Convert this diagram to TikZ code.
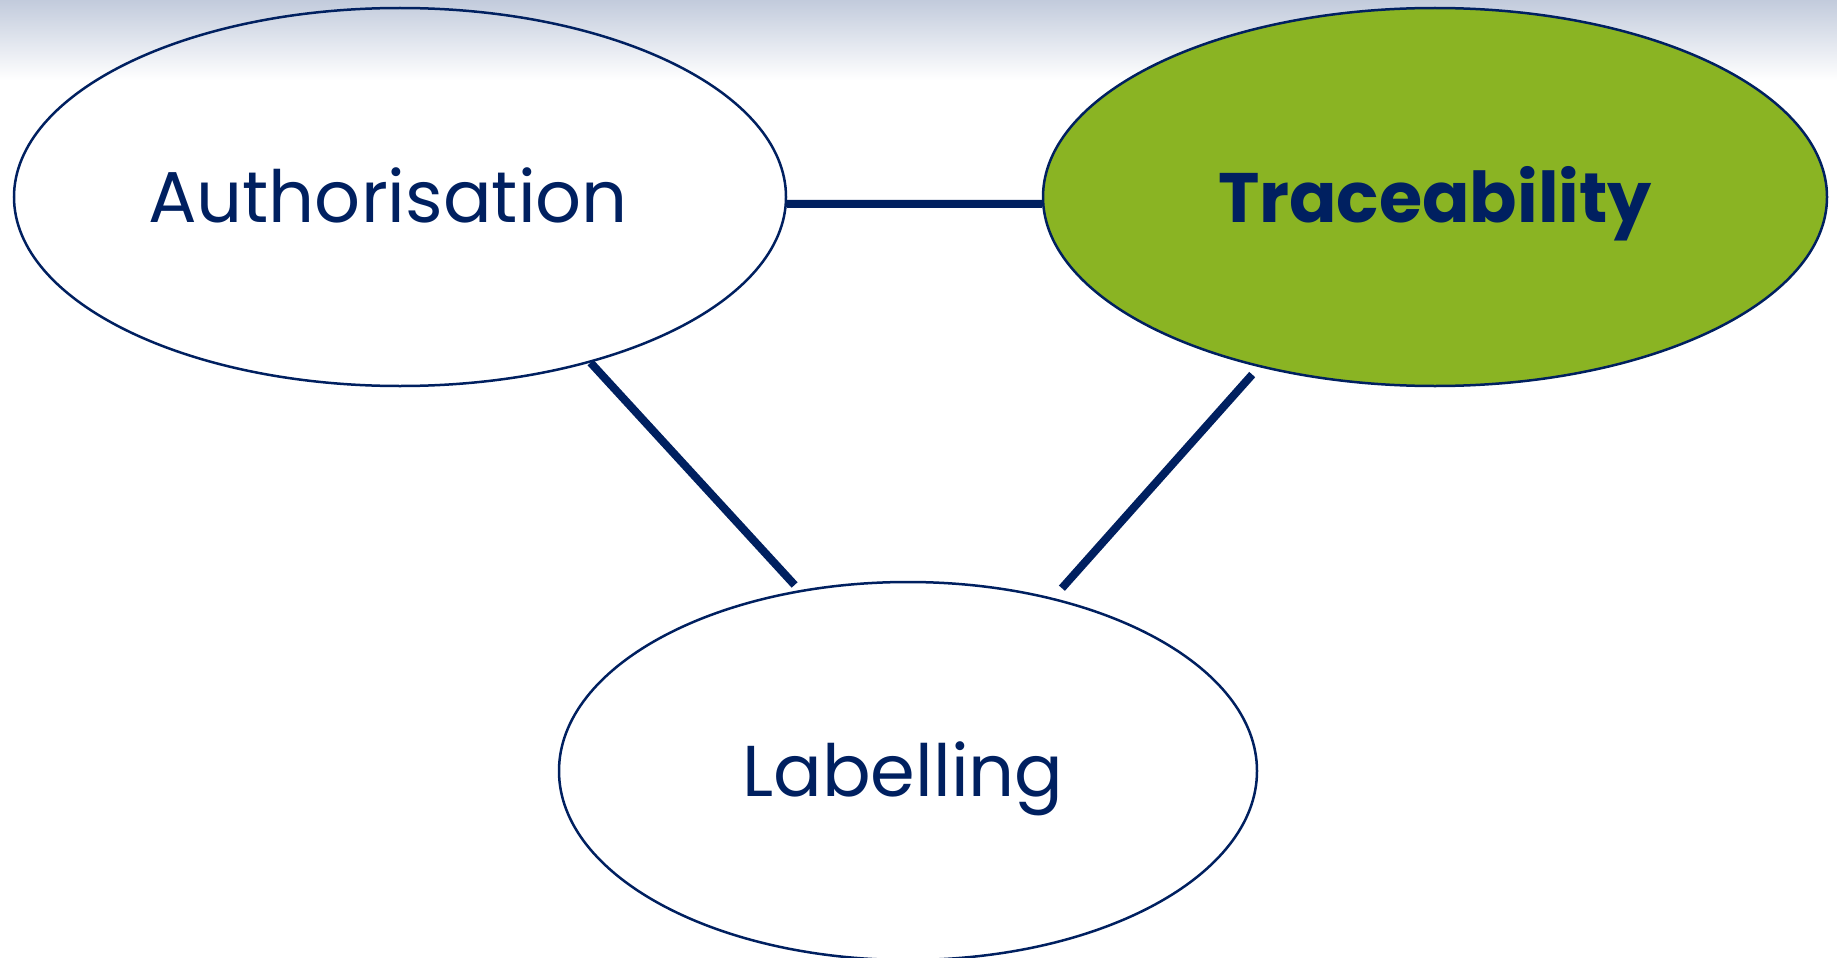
\documentclass[tikz,border=0pt]{standalone}
\usepackage{fontspec}
\setmainfont{Poppins}
\usetikzlibrary{shapes.geometric}
\definecolor{navy}{HTML}{002060}
\definecolor{leaf}{HTML}{8AB423}
\definecolor{haze}{HTML}{C2CBDC}
\begin{document}
\begin{tikzpicture}
  [x=1pt,y=-1pt,every node/.style={ellipse,draw=navy,line width=2.5pt,inner sep=0pt,
   text=navy,font=\fontsize{72}{76}\selectfont,text height=50pt,text depth=0pt}]
  \useasboundingbox (0,0) rectangle (1837,958);
  \fill[white] (0,0) rectangle (1837,958);
  \shade[top color=haze,bottom color=white] (0,0) rectangle (1837,80);

  \node[minimum width=772pt,minimum height=378pt] (auth)  at (400,197)  {Authorisation\hspace*{24pt}};
  \node[minimum width=784pt,minimum height=378pt,fill=leaf,font=\fontsize{70}{74}\selectfont\bfseries]
    (trace) at (1435,197) {Traceability};
  \node[minimum width=698pt,minimum height=378pt] (lab)   at (908,771)  {Labelling\hspace*{10pt}};

  \foreach \from/\to/\gapa/\gapb in {auth.-1.4/trace.181.4/0/0,auth.-41.3/lab.121/0/7,trace.-136/lab.50.7/10/13}
    \draw[navy,line width=8pt,shorten <=\gapa pt,shorten >=\gapb pt] (\from) -- (\to);

\end{tikzpicture}
\end{document}
